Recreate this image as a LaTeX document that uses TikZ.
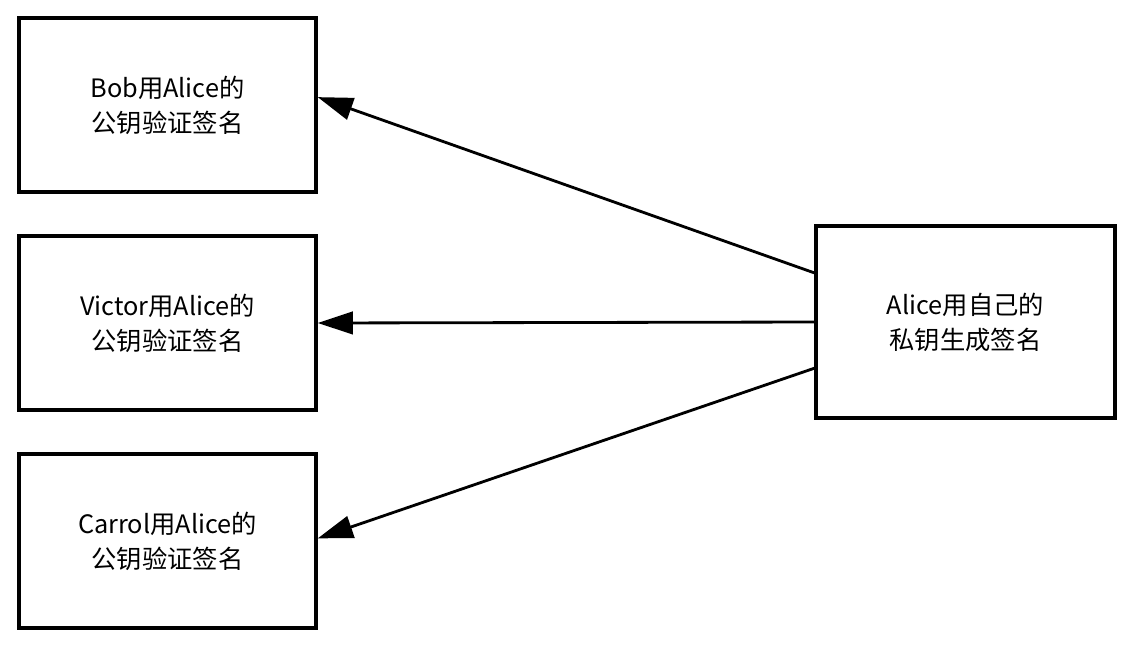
\documentclass[tikz,border=0pt]{standalone}
\usepackage{fontspec}
\setmainfont{Noto Sans CJK SC}
\usepackage{tikz}
\usetikzlibrary{arrows.meta}

\begin{document}
\begin{tikzpicture}
  [x=0.025cm,y=-0.025cm,every node/.style={draw,rectangle,line width=2.4pt,align=center,font=\fontsize{18pt}{25pt}\selectfont},
   sig/.style={line width=2pt,-{Triangle[length=25pt,width=16pt]}}] % boxes in pixel coordinates
    \useasboundingbox (0,0) rectangle (1136,646);

    \node[minimum width=7.425cm,minimum height=4.35cm] (bob) at (167.5,105)     {Bob用Alice的\\公钥验证签名};
    \node[minimum width=7.425cm,minimum height=4.35cm] (victor) at (167.5,323)  {Victor用Alice的\\公钥验证签名};
    \node[minimum width=7.425cm,minimum height=4.35cm] (carrol) at (167.5,541)  {Carrol用Alice的\\公钥验证签名};

    \node[minimum width=7.475cm,minimum height=4.8cm] (alice) at (965.5,322)  {Alice用自己的\\私钥生成签名};

    \draw [sig](alice.162.5) -- (bob.3);
    \draw [sig](alice.west) -- (victor.east);
    \draw [sig](alice.197) -- (carrol.1);

\end{tikzpicture}
\end{document}
